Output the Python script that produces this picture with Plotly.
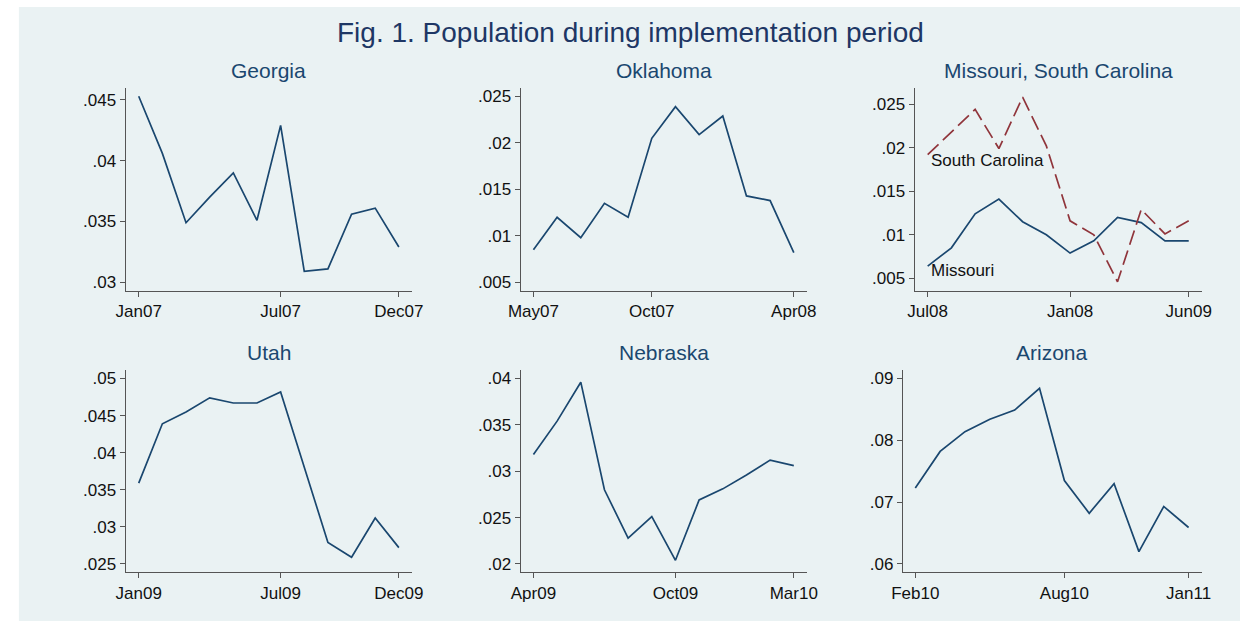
import plotly.graph_objects as go
from plotly.subplots import make_subplots

W, H = 1252, 626

# monthly index within each 12-month implementation window
months = list(range(12))

georgia = [0.0453, 0.0406, 0.0349, 0.0370, 0.0390, 0.0351, 0.0429, 0.0309, 0.0311, 0.0356, 0.0361, 0.0329]
oklahoma = [0.0085, 0.0120, 0.0098, 0.0135, 0.0120, 0.0205, 0.0239, 0.0209, 0.0229, 0.0143, 0.0138, 0.0082]
missouri = [0.0064, 0.0085, 0.0124, 0.0141, 0.0115, 0.0100, 0.0079, 0.0093, 0.0120, 0.0114, 0.0093, 0.0093]
s_carolina = [0.0192, 0.0218, 0.0244, 0.0199, 0.0258, 0.0202, 0.0116, 0.0100, 0.0046, 0.0129, 0.0101, 0.0116]
utah = [0.0359, 0.0439, 0.0455, 0.0474, 0.0467, 0.0467, 0.0482, 0.0381, 0.0279, 0.0259, 0.0312, 0.0272]
nebraska = [0.0318, 0.0354, 0.0396, 0.0280, 0.0228, 0.0251, 0.0204, 0.0269, 0.0281, 0.0296, 0.0312, 0.0306]
arizona = [0.0723, 0.0782, 0.0814, 0.0834, 0.0849, 0.0884, 0.0735, 0.0682, 0.0730, 0.0620, 0.0693, 0.0659]

titles = ["Georgia", "Oklahoma", "Missouri, South Carolina", "Utah", "Nebraska", "Arizona"]

x_tick_pos = [
    [0, 6, 11], [0, 5, 11], [0, 6, 11],
    [0, 6, 11], [0, 6, 11], [0, 6, 11],
]
x_tick_text = [
    ["Jan07", "Jul07", "Dec07"],
    ["May07", "Oct07", "Apr08"],
    ["Jul08", "Jan08", "Jun09"],
    ["Jan09", "Jul09", "Dec09"],
    ["Apr09", "Oct09", "Mar10"],
    ["Feb10", "Aug10", "Jan11"],
]
y_tick_vals = [
    [0.03, 0.035, 0.04, 0.045],
    [0.005, 0.01, 0.015, 0.02, 0.025],
    [0.005, 0.01, 0.015, 0.02, 0.025],
    [0.025, 0.03, 0.035, 0.04, 0.045, 0.05],
    [0.02, 0.025, 0.03, 0.035, 0.04],
    [0.06, 0.07, 0.08, 0.09],
]
y_tick_text = [
    [".03", ".035", ".04", ".045"],
    [".005", ".01", ".015", ".02", ".025"],
    [".005", ".01", ".015", ".02", ".025"],
    [".025", ".03", ".035", ".04", ".045", ".05"],
    [".02", ".025", ".03", ".035", ".04"],
    [".06", ".07", ".08", ".09"],
]
y_ranges = [
    [0.02932, 0.04601],
    [0.00411, 0.02596],
    [0.00359, 0.02690],
    [0.02388, 0.05112],
    [0.01911, 0.04089],
    [0.05866, 0.09134],
]
x_ranges = [
    [-0.55, 11.55], [-0.54, 11.55], [-0.55, 11.55],
    [-0.55, 11.55], [-0.54, 11.55], [-0.50, 11.53],
]

# plot boxes in pixels: left, right, top, bottom
boxes = [
    (115, 407, 87, 291), (518, 810, 87, 291), (920, 1213, 87, 291),
    (115, 407, 371, 574), (518, 810, 371, 574), (908, 1213, 371, 574),
]


def fx(px):
    return px / W


def fy(py):
    return 1 - py / H


navy = "#1a476f"
maroon = "#90353b"
bg = "#eaf2f3"
axis_col = "#555555"
font = "Liberation Sans, Arial, sans-serif"

fig = make_subplots(rows=2, cols=3)

series = [georgia, oklahoma, missouri, utah, nebraska, arizona]
for i, ys in enumerate(series):
    r, c = i // 3 + 1, i % 3 + 1
    fig.add_trace(go.Scatter(x=months, y=ys, mode="lines",
                             line=dict(color=navy, width=1.7),
                             showlegend=False), row=r, col=c)
    if i == 2:
        fig.add_trace(go.Scatter(x=months, y=s_carolina, mode="lines",
                                 line=dict(color=maroon, width=1.7, dash="15px,6px"),
                                 showlegend=False), row=r, col=c)

for i, (l, rgt, t, b) in enumerate(boxes):
    r, c = i // 3 + 1, i % 3 + 1
    fig.update_xaxes(domain=[fx(l), fx(rgt)], range=x_ranges[i],
                     tickmode="array", tickvals=x_tick_pos[i], ticktext=x_tick_text[i],
                     showgrid=False, zeroline=False, showline=True, linecolor=axis_col,
                     linewidth=1.2, ticks="outside", ticklen=5, tickcolor=axis_col,
                     tickfont=dict(size=17, color="#111111", family=font),
                     row=r, col=c)
    fig.update_yaxes(domain=[fy(b), fy(t)], range=y_ranges[i],
                     tickmode="array", tickvals=y_tick_vals[i], ticktext=y_tick_text[i],
                     showgrid=True, gridcolor=bg, gridwidth=1.2, zeroline=False,
                     showline=True, linecolor=axis_col, linewidth=1.2,
                     ticks="outside", ticklen=5, tickcolor=axis_col,
                     tickfont=dict(size=17, color="#111111", family=font),
                     row=r, col=c)
    fig.add_annotation(text=titles[i], xref="paper", yref="paper",
                       x=fx((l + rgt) / 2), y=fy(t - 4),
                       xanchor="center", yanchor="bottom", showarrow=False,
                       font=dict(size=21, color=navy, family=font))

# series labels inside the Missouri / South Carolina panel
fig.add_annotation(text="South Carolina", xref="x3", yref="y3", x=0.05, y=0.0185,
                   xanchor="left", yanchor="middle", showarrow=False,
                   font=dict(size=17, color="#111111", family=font))
fig.add_annotation(text="Missouri", xref="x3", yref="y3", x=0.05, y=0.00595,
                   xanchor="left", yanchor="middle", showarrow=False,
                   font=dict(size=17, color="#111111", family=font))

fig.add_annotation(text="Fig. 1. Population during implementation period",
                   xref="paper", yref="paper", x=fx(630), y=fy(32),
                   xanchor="center", yanchor="middle", showarrow=False,
                   font=dict(size=28, color="#1e3765", family=font))

# light outer frame, Stata style
fig.add_shape(type="rect", xref="paper", yref="paper", layer="below",
              x0=fx(6), x1=1, y0=fy(623), y1=fy(6),
              fillcolor=bg, line=dict(width=0))

fig.update_layout(
    width=W, height=H,
    margin=dict(l=0, r=0, t=0, b=0),
    paper_bgcolor="white",
    plot_bgcolor="white",
    font=dict(family=font),
    showlegend=False,
)

# no modebar, and drop the default page margin so the figure sits at the window origin
fig.write_html("out.html", config={"displayModeBar": False},
               post_script="document.body.style.margin = '0';")
